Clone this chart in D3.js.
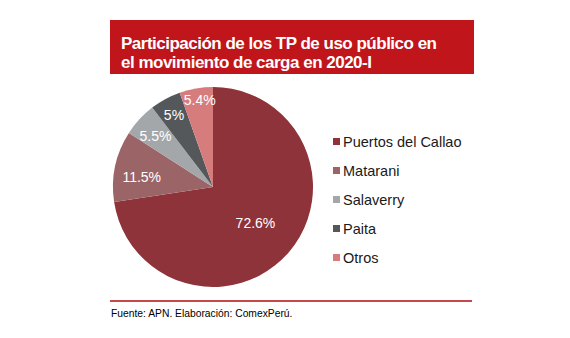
<!DOCTYPE html>
<html>

<head>
	<meta charset="utf-8">
	<title>Participación TP uso público 2020-I</title>
	<script src="https://cdn.jsdelivr.net/npm/d3@7/dist/d3.min.js"></script>
	<style>
		body { margin: 0; background: #fff; }
		svg { font-family: "Liberation Sans", Arial, sans-serif; }
	</style>
</head>

<body>
	<svg id="chart" width="570" height="338"></svg>

	<script>
		// puertos y participación (%) en el movimiento de carga
		var puertos = ['Puertos del Callao', 'Matarani', 'Salaverry', 'Paita', 'Otros'];
		var participacion = [72.6, 11.5, 5.5, 5, 5.4];
		var colores = ['#8e3339', '#9b6567', '#a4a7aa', '#55585a', '#d77c7d'];

		var titulo = ['Participación de los TP de uso público en', 'el movimiento de carga en 2020-I'];
		var fuente = 'Fuente: APN. Elaboración: ComexPerú.';

		var svg = d3.select('#chart');

		// cabecera roja con el título
		svg.append('rect')
			.attr('x', 110).attr('y', 20)
			.attr('width', 364).attr('height', 54)
			.attr('fill', '#bf151b');

		svg.append('g').selectAll('text')
			.data(titulo)
			.enter()
			.append('text')
			.attr('x', 121)
			.attr('y', (d, i) => 49 + i * 19)
			.attr('fill', '#fff')
			.attr('font-size', '17px')
			.attr('font-weight', 'bold')
			.attr('letter-spacing', '-0.5px')
			.text(d => d);

		// torta
		var cx = 213, cy = 187, r = 100;
		var data = puertos.map((p, i) => ({ puerto: p, valor: participacion[i] }));

		var color = d3.scaleOrdinal().domain(puertos).range(colores);

		var pie = d3.pie().value(d => d.valor).sort(null);
		var arc = d3.arc().innerRadius(0).outerRadius(r);

		var g = svg.append('g').attr('transform', `translate(${cx},${cy})`);
		var arcs = pie(data);

		g.selectAll('path')
			.data(arcs)
			.enter()
			.append('path')
			.attr('d', arc)
			.attr('fill', d => color(d.data.puerto));

		// etiquetas dentro de cada sector (radio y desvío angular en grados)
		var radiosEtiqueta = [56, 72, 77, 82, 88];
		var desvioEtiqueta = [0, -4, -1, 0, 1];
		g.selectAll('.etiqueta')
			.data(arcs)
			.enter()
			.append('text')
			.attr('class', 'etiqueta')
			.attr('transform', (d, i) => {
				var a = (d.startAngle + d.endAngle) / 2 + desvioEtiqueta[i] * Math.PI / 180;
				var rr = radiosEtiqueta[i];
				return `translate(${Math.sin(a) * rr},${-Math.cos(a) * rr})`;
			})
			.attr('text-anchor', 'middle')
			.attr('dy', '0.35em')
			.attr('fill', '#fff')
			.attr('font-size', '14px')
			.text(d => d.data.valor + '%');

		// leyenda
		var leyenda = svg.append('g').selectAll('g')
			.data(puertos)
			.enter()
			.append('g')
			.attr('transform', (d, i) => `translate(333,${142 + i * 29})`);

		leyenda.append('rect')
			.attr('x', 0).attr('y', -4)
			.attr('width', 7).attr('height', 7)
			.attr('fill', d => color(d));

		leyenda.append('text')
			.attr('x', 10)
			.attr('dy', '0.35em')
			.attr('fill', '#1a1a1a')
			.attr('font-size', '14.5px')
			.text(d => d);

		// línea inferior y fuente
		svg.append('line')
			.attr('x1', 110).attr('x2', 472)
			.attr('y1', 301).attr('y2', 301)
			.attr('stroke', '#c8474a')
			.attr('stroke-width', 2);

		svg.append('text')
			.attr('x', 111).attr('y', 317)
			.attr('fill', '#000')
			.attr('font-size', '10.3px')
			.text(fuente);
	</script>
</body>

</html>
